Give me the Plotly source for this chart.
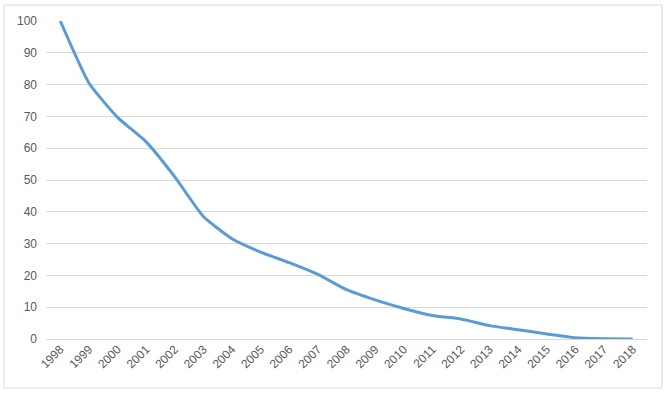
import plotly.graph_objects as go

years = [str(y) for y in range(1998, 2019)]
values = [100, 80.5, 69.7, 62.0, 51.0, 38.5, 31.5, 27.3, 24.0, 20.3, 15.5,
          12.3, 9.6, 7.4, 6.3, 4.2, 2.9, 1.6, 0.4, 0.1, 0.0]
y_ticks = list(range(0, 101, 10))

W, H = 670, 394
L, R, T, B = 46, 23, 21, 55
pw, ph = W - L - R, H - T - B

def px(x):
    return (x - L) / pw

def py(y):
    return (H - B - y) / ph

fig = go.Figure()
fig.add_trace(go.Scatter(
    x=years, y=values, mode="lines",
    line=dict(color="#5B9BD5", width=3, shape="spline", smoothing=0.5),
    hoverinfo="x+y", showlegend=False,
))

fig.update_layout(
    width=W, height=H,
    margin=dict(l=L, r=R, t=T, b=B, autoexpand=False),
    paper_bgcolor="white", plot_bgcolor="white",
    font=dict(family="Liberation Sans, Arial, sans-serif", size=11, color="#595959"),
    xaxis=dict(
        type="category", range=[-0.5, len(years) - 0.5], automargin=False,
        tickangle=-45, showgrid=False, zeroline=False,
        showline=False, ticks="", tickfont=dict(size=12, color="#595959"),
    ),
    yaxis=dict(
        range=[0, 100], tickvals=y_ticks, showgrid=True, gridcolor="#D9D9D9",
        gridwidth=1, zeroline=True, zerolinecolor="#D9D9D9", zerolinewidth=1,
        showline=False, ticks="", ticklabelstandoff=8, automargin=False,
        tickfont=dict(size=12, color="#595959"),
    ),
    shapes=[dict(
        type="rect", xref="paper", yref="paper",
        x0=px(4), x1=px(662), y0=py(388), y1=py(5),
        line=dict(color="#D9D9D9", width=1), fillcolor="rgba(0,0,0,0)",
        layer="below",
    )],
)

fig.write_html("out.html", config={"displayModeBar": False},
               post_script="document.body.style.margin='0';")
